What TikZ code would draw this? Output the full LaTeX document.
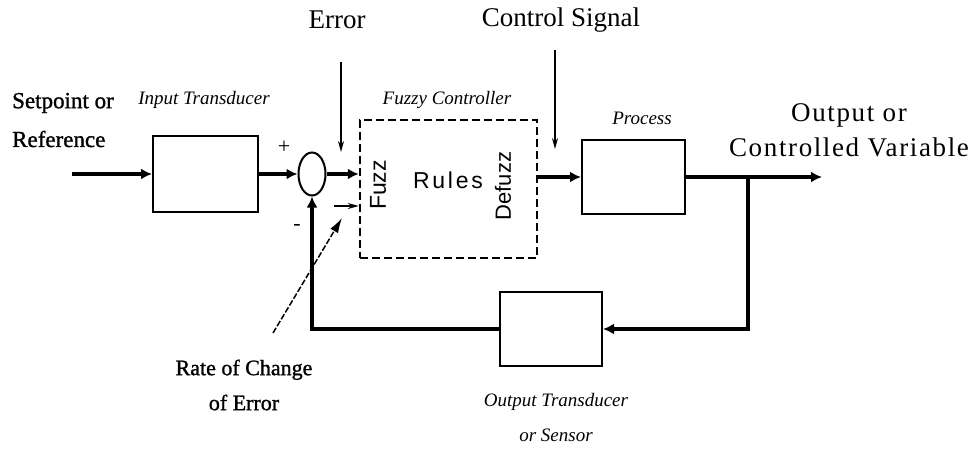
\documentclass[tikz,border=0pt]{standalone}
\usepackage{fontspec}
\setmainfont{Liberation Serif}
\newfontfamily\sansf{Liberation Sans}
\newfontfamily\sansw{Liberation Sans}[LetterSpace=12]
\newfontfamily\serw{Liberation Serif}[LetterSpace=6]
\newfontfamily\serb{Liberation Serif}[FakeBold=1.2]
\usetikzlibrary{arrows.meta,shapes.geometric}
\begin{document}
\begin{tikzpicture}[x=1pt,y=-1pt,
  blk/.style={draw, line width=2pt, inner sep=0pt},
  dashblk/.style={draw, line width=2.5pt, dash pattern=on 8pt off 4pt, inner sep=0pt},
  sumn/.style={draw, ellipse, line width=2pt, minimum width=27pt, minimum height=43pt, inner sep=0pt},
  main/.style={line width=4.5pt, -{Latex[length=11pt,width=11pt]}},
  thinarr/.style={line width=1.5pt, -{Stealth[length=11pt,width=6pt]}},
  ratearr/.style={line width=1.5pt, dash pattern=on 6pt off 2pt, -{Latex[length=15pt,width=9pt]}},
  lbl/.style={inner sep=0pt, font=\fontsize{#1}{#1}\selectfont},
  lblb/.style={inner sep=0pt, font=\fontsize{#1}{#1}\serb\selectfont},
  ital/.style={inner sep=0pt, font=\fontsize{19}{19}\selectfont\itshape},
  sanl/.style={inner sep=0pt, font=\fontsize{#1}{#1}\sansf\selectfont}
]
\useasboundingbox (0,0) rectangle (979,451);

% blocks
\node[blk, minimum width=105pt, minimum height=76pt] (inb) at (205.5,174) {};
\node[sumn] (sum) at (312,174) {};
\node[dashblk, minimum width=177pt, minimum height=138pt] (fz) at (448.5,189) {};
\node[blk, minimum width=103pt, minimum height=74pt] (pr) at (633.5,177) {};
\node[blk, minimum width=102pt, minimum height=74pt] (ot) at (551,329) {};

% coordinates
\coordinate (in0) at (72,174);
\coordinate (out1) at (822,177);
\coordinate (br) at (748,177);
\coordinate (errs) at (341,62);
\coordinate (erre) at (341,152);
\coordinate (css) at (555,50);
\coordinate (cse) at (555,149);
\coordinate (smalls) at (334,206);
\coordinate (rates) at (273,333);
\coordinate (ratee) at (342,218);

% main signal path
\draw[main] (in0) -- (inb.west);
\draw[main] (inb.east) -- (sum.west);
\draw[main] (sum.east) -- (sum.east -| fz.west);
\draw[main] (fz.east |- pr.west) -- (pr.west);
\draw[main] (pr.east) -- (out1);
\draw[main] (br) |- (ot.east);
\draw[main] (ot.west) -| (sum.south);

% annotation arrows
\draw[thinarr] (errs) -- (erre);
\draw[thinarr] (css) -- (cse);
\draw[thinarr] (smalls) -- (smalls -| fz.west);
\draw[ratearr] (rates) -- (ratee);

% texts
\node[lbl=27] (err) at (337,20) {Error};
\node[lbl=27] (cs) at (561,20) {Control Signal};
\node[lblb=23, anchor=west] (sp) at (12,103) {Setpoint or};
\node[lblb=23, anchor=west] (rf) at (12,139) {Reference};
\node[ital] (itl) at (204,100) {Input Transducer};
\node[ital] (fcl) at (447,100) {Fuzzy Controller};
\node[ital] (prl) at (642,118) {Process};
\node[inner sep=0pt, align=center, font=\fontsize{27}{35}\serw\selectfont] (ovl) at (849,130) {Output or\\Controlled Variable};
\node[lbl=22] (plus) at (284,147) {+};
\node[lbl=22] (minus) at (297,227) {-};
\node[sanl=23, rotate=90] (fuzz) at (378,185) {Fuzz};
\node[sanl=22, rotate=90] (dfz) at (503,186) {Defuzz};
\node[inner sep=0pt, font=\fontsize{23}{23}\sansw\selectfont] (rules) at (448,180) {Rules};
\node[inner sep=0pt, align=center, font=\fontsize{22}{35}\serb\selectfont] (rcl) at (244,385) {Rate of Change\\of Error};
\node[inner sep=0pt, align=center, font=\fontsize{19}{35}\selectfont\itshape] (otl) at (556,417) {Output Transducer\\or Sensor};
\end{tikzpicture}
\end{document}
